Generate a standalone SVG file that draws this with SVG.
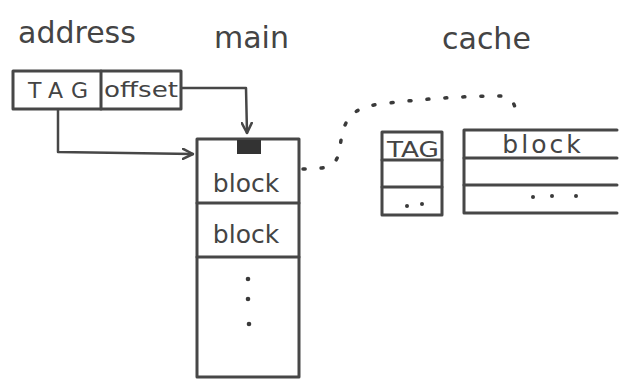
<svg xmlns="http://www.w3.org/2000/svg" width="625" height="380" viewBox="0 0 625 380">
<defs>
<style>
.box{fill:none;stroke:#474747;stroke-width:3;stroke-linejoin:round;stroke-linecap:round}
.ln{fill:none;stroke:#474747;stroke-width:2.5;stroke-linecap:round;stroke-linejoin:round}
.dl{fill:none;stroke:#3a3a3a;stroke-width:3.5;stroke-linecap:round;stroke-dasharray:2 16}
.dot{fill:#3a3a3a}
.t{font-family:"DejaVu Sans","Liberation Sans",sans-serif;fill:#444}
.title{font-size:30px}
.lbl{font-size:25px}
.sm{font-size:22px}
</style>
<marker id="ah" viewBox="0 0 12 12" refX="11" refY="6" markerWidth="12" markerHeight="12" markerUnits="userSpaceOnUse" orient="auto">
<path d="M1,1 L11,6 L1,11" fill="none" stroke="#474747" stroke-width="2.5" stroke-linecap="round" stroke-linejoin="round"/>
</marker>
</defs>
<rect width="625" height="380" fill="#fff"/>
<g id="titles">
<text class="t title" x="18" y="43">address</text>
<text class="t title" x="214" y="48">main</text>
<text class="t title" x="442" y="49">cache</text>
</g>
<g id="address">
<rect class="box" x="13" y="71" width="168" height="38"/>
<line class="box" x1="101" y1="71" x2="101" y2="109"/>
<text class="t sm" x="28" y="98" textLength="60" lengthAdjust="spacing">TAG</text>
<text class="t sm" x="104" y="97" textLength="74" lengthAdjust="spacingAndGlyphs">offset</text>
</g>
<g id="main">
<rect class="box" x="197" y="139" width="102" height="238"/>
<line class="box" x1="197" y1="203" x2="299" y2="203"/>
<line class="box" x1="197" y1="257" x2="299" y2="257"/>
<rect x="237" y="140" width="24" height="14" fill="#333"/>
<text class="t lbl" x="246" y="192" text-anchor="middle">block</text>
<text class="t lbl" x="246" y="243" text-anchor="middle">block</text>
<circle class="dot" cx="248" cy="279" r="2.3"/>
<circle class="dot" cx="248" cy="299" r="2.3"/>
<circle class="dot" cx="249" cy="324" r="2.3"/>
</g>
<g id="cache-tag">
<rect class="box" x="382" y="132" width="60" height="83"/>
<line class="box" x1="382" y1="160" x2="442" y2="160"/>
<line class="box" x1="382" y1="187" x2="442" y2="187"/>
<text class="t sm" x="387" y="157" textLength="52" lengthAdjust="spacingAndGlyphs">TAG</text>
<circle class="dot" cx="407" cy="206" r="2"/>
<circle class="dot" cx="422" cy="204" r="2"/>
</g>
<g id="cache-block">
<path class="box" d="M617,130 L464,130 L464,213 L617,213"/>
<line class="box" x1="464" y1="158" x2="617" y2="158"/>
<line class="box" x1="464" y1="185" x2="617" y2="185"/>
<text class="t lbl" x="543" y="153" text-anchor="middle" letter-spacing="3">block</text>
<circle class="dot" cx="533" cy="197" r="2"/>
<circle class="dot" cx="552" cy="196" r="2"/>
<circle class="dot" cx="576" cy="196" r="2"/>
</g>
<g id="connectors">
<path class="ln" d="M182,88 L246,88 L247,133" marker-end="url(#ah)"/>
<path class="ln" d="M58,110 L58,152 L193,154" marker-end="url(#ah)"/>
<path class="dl" d="M303,169 C330,169 337,166 340,148 C343,120 350,108 380,104 C430,98 470,96 500,96 C515,97 516,108 517,121"/>
</g>
</svg>
